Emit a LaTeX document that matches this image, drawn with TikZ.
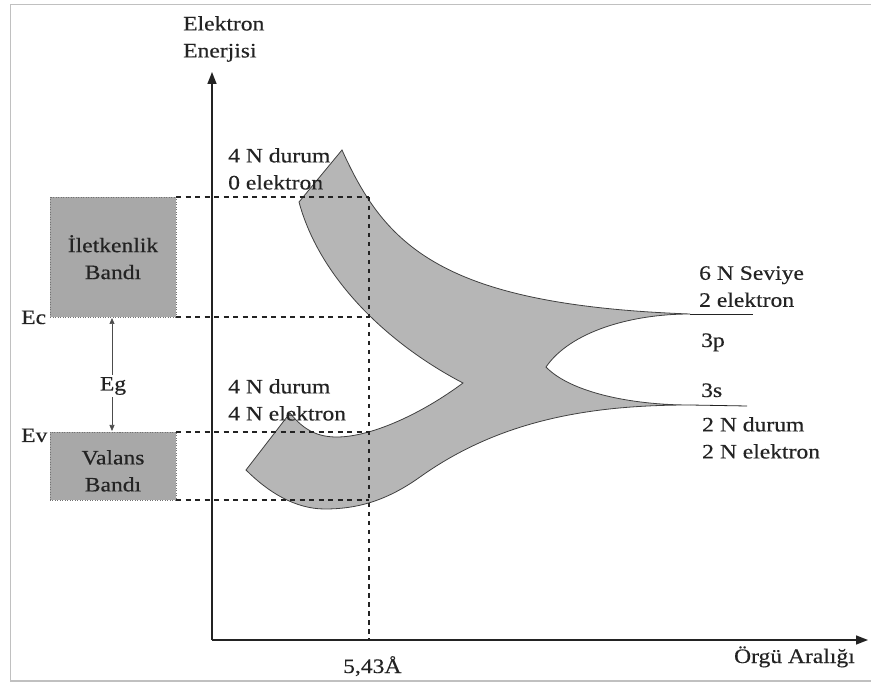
\documentclass[tikz,border=0pt]{standalone}
\usepackage{fontspec}
\setmainfont{Liberation Serif}[FakeStretch=1.15, FakeBold=0.4]
\usetikzlibrary{arrows.meta}
\definecolor{bandfill}{RGB}{182,182,182}
\definecolor{boxfill}{RGB}{168,168,168}
\definecolor{framegray}{RGB}{192,192,192}
\definecolor{ink}{RGB}{35,35,35}
\begin{document}
\begin{tikzpicture}[x=1pt,y=-1pt,
  font=\fontsize{20.5}{27}\selectfont,
  txt/.style={inner sep=0pt, text=ink, align=left},
  guide/.style={line width=1.5pt, draw=ink, dash pattern=on 5pt off 4.5pt},
  bandbox/.style={fill=boxfill, draw=black!55, line width=0.8pt, dash pattern=on 1pt off 1.5pt},
  axisline/.style={line width=1.5pt, draw=ink, -{Triangle[length=12pt,width=9pt]}},
  band/.style={fill=bandfill, draw=black!75, line width=0.8pt},
  level/.style={line width=0.8pt, draw=ink},
  gaparrow/.style={line width=0.7pt, draw=black!70, {Triangle[length=6pt,width=5pt]}-{Triangle[length=6pt,width=5pt]}}
]
\useasboundingbox (0,0) rectangle (871,684);
% outer frame
\draw[framegray, line width=1.5pt] (10.5,4.5) rectangle (874,681);

% key coordinates
\coordinate (origin) at (212,640);
\coordinate (ytip) at (212,72);
\coordinate (xtip) at (868,640);
\coordinate (latt) at (369,640);
\coordinate (lattTop) at (369,197);
\coordinate (cTopL) at (176,197);
\coordinate (cBotL) at (176,317);
\coordinate (vTopL) at (176,432);
\coordinate (vBotL) at (176,500);
\coordinate (cTopR) at (369,197);
\coordinate (cBotR) at (369,317);
\coordinate (vTopR) at (369,432);
\coordinate (vBotR) at (369,500);
\coordinate (pJoin) at (690,314);
\coordinate (pEnd) at (753,314);
\coordinate (sJoin) at (690,405);
\coordinate (sEnd) at (747,406);
\coordinate (cuspR) at (546,367);
\coordinate (cuspL) at (463,383);
\coordinate (upTip) at (342,150);
\coordinate (upLeft) at (299,202);
\coordinate (loTip) at (290,413);
\coordinate (loLeft) at (246,470);

% energy bands versus lattice spacing
\filldraw[band]
  (upTip) .. controls (385,245) and (440,305) .. (pJoin)
  .. controls (630,314) and (570,332) .. (cuspR)
  .. controls (570,392) and (630,405) .. (sJoin)
  .. controls (590,405) and (500,420) .. (420,477)
  .. controls (385,502) and (355,509) .. (325,509)
  .. controls (295,509) and (268,492) .. (loLeft)
  -- (loTip)
  .. controls (305,432) and (320,437) .. (337,437)
  .. controls (370,437) and (420,415) .. (cuspL)
  .. controls (390,345) and (320,280) .. (upLeft)
  -- cycle;
\draw[level] (pJoin) -- (pEnd);
\draw[level] (sJoin) -- (sEnd);

% band boxes
\draw[bandbox] (50,197) rectangle (cBotL);
\draw[bandbox] (50,432) rectangle (vBotL);

% guide lines
\draw[guide] (cTopL) -- (cTopR);
\draw[guide] (cBotL) -- (cBotR);
\draw[guide] (vTopL) -- (vTopR);
\draw[guide] (vBotL) -- (vBotR);
\draw[guide, dash pattern=on 4.5pt off 4.5pt] (lattTop) -- (latt);

% axes
\draw[axisline] (origin) -- (ytip);
\draw[axisline] (origin) -- (xtip);

% band gap
\coordinate (egTop) at (112,318);
\coordinate (egBot) at (112,431);
\draw[gaparrow] (egTop) -- (egBot);
\node[txt, fill=white, inner sep=2pt] (eg) at (113,386) {Eg};

% labels
\node[txt, anchor=north west] (yname) at (183,16) {Elektron\\Enerjisi};
\node[txt, anchor=north, align=center] (cband) at (113,235) {İletkenlik\\Bandı};
\node[txt, anchor=north, align=center] (vband) at (113,450) {Valans\\Bandı};
\node[txt, anchor=base west] (ec) at (21,324) {Ec};
\node[txt, anchor=base west] (ev) at (21,442) {Ev};
\node[txt, anchor=north west] (upper) at (228,148) {4 N durum\\0 elektron};
\node[txt, anchor=north west] (lower) at (228,379) {4 N durum\\4 N elektron};
\node[txt, anchor=north west] (sixN) at (699,266) {6 N Seviye\\2 elektron};
\node[txt, anchor=base west] (p3) at (701,347) {3p};
\node[txt, anchor=base west] (s3) at (701,397) {3s};
\node[txt, anchor=north west] (twoN) at (702,417) {2 N durum\\2 N elektron};
\node[txt, anchor=base west] (aval) at (343,673) {5,43Å};
\node[txt, anchor=base east] (xname) at (855,663) {Örgü Aralığı};
\end{tikzpicture}
\end{document}
